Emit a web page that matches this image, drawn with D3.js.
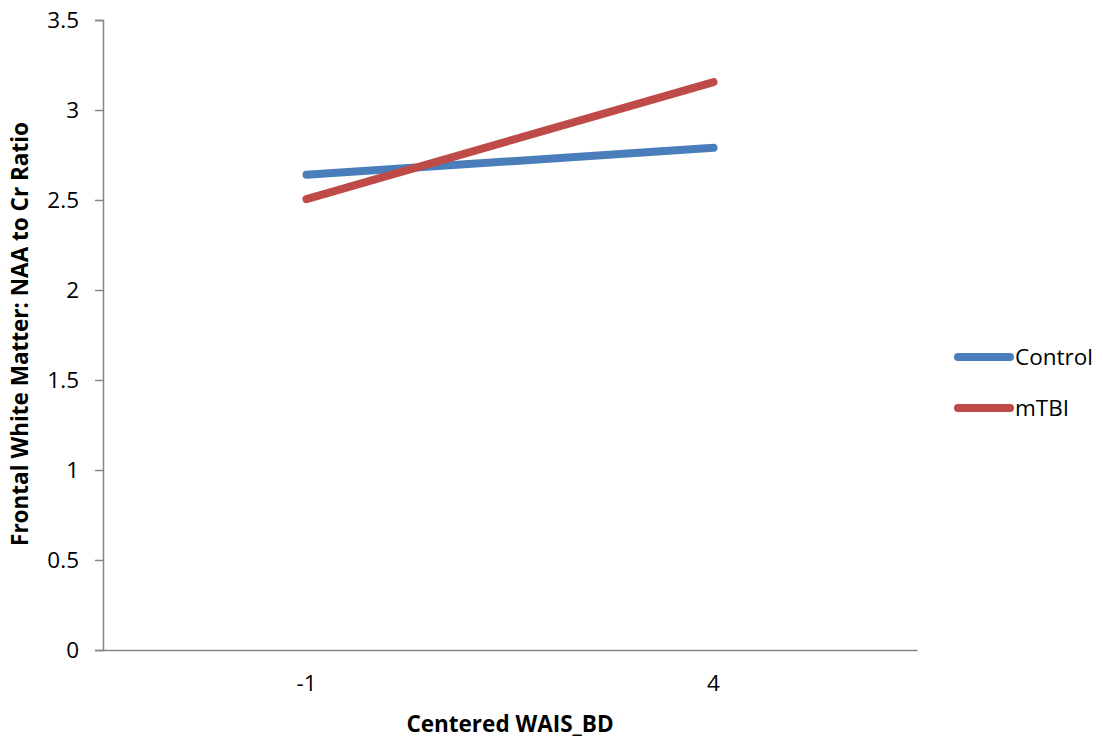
<!DOCTYPE html>
<html><head><meta charset="utf-8">
<script src="https://cdn.jsdelivr.net/npm/d3@7"></script>
<style>body{margin:0;background:#fff;} text{font-family:"Open Sans",Lato,sans-serif;}</style>
</head><body>
<svg id="chart" width="1107" height="744"></svg>
<script>
const categories = ["-1", "4"];
const controlValues = [2.64, 2.79];
const mtbiValues = [2.505, 3.155];
const yTicks = [0, 0.5, 1, 1.5, 2, 2.5, 3, 3.5];
const seriesNames = ["Control", "mTBI"];
const seriesColors = ["#4a7ebb", "#be4b48"];

(function () {
const svg = d3.select("#chart");
const mLeft = 103, mRight = 917, mTop = 20, mBottom = 650;
const fs = 22.5;
const x = d3.scaleBand().domain(categories).range([mLeft, mRight]);
const y = d3.scaleLinear().domain([0, 3.5]).range([mBottom, mTop]);

// y axis
const yAxis = svg.append("g").attr("transform", `translate(${mLeft},0)`)
  .call(d3.axisLeft(y).tickValues(yTicks).tickFormat(d => String(d)).tickSize(8).tickPadding(16));
yAxis.select(".domain").attr("stroke", "#868686").attr("stroke-width", 1.5);
yAxis.selectAll(".tick line").attr("stroke", "#868686").attr("stroke-width", 1.5);
yAxis.selectAll(".tick text").attr("font-size", fs).attr("fill", "#000").attr("font-family", "'Open Sans'");

// x axis
const xAxis = svg.append("g").attr("transform", `translate(0,${mBottom})`)
  .call(d3.axisBottom(x).tickSize(0).tickPadding(25));
xAxis.select(".domain").attr("stroke", "#868686").attr("stroke-width", 1.5);
xAxis.selectAll(".tick text").attr("font-size", fs).attr("fill", "#000").attr("font-family", "'Open Sans'");

// titles
svg.append("text").attr("x", 510).attr("y", 732).attr("text-anchor", "middle")
  .attr("font-size", fs).attr("font-weight", "bold").text("Centered WAIS_BD");
svg.append("text").attr("transform", "translate(28,334) rotate(-90)").attr("text-anchor", "middle")
  .attr("font-size", fs).attr("font-weight", "bold").text("Frontal White Matter: NAA to Cr Ratio");

// lines
const data = [controlValues, mtbiValues];
const line = d3.line().x((d, i) => x(categories[i]) + x.bandwidth() / 2).y(d => y(d));
data.forEach((vals, k) => {
  svg.append("path").datum(vals).attr("d", line).attr("fill", "none")
    .attr("stroke", seriesColors[k]).attr("stroke-width", 8).attr("stroke-linecap", "round");
});

// legend
seriesNames.forEach((name, k) => {
  const ly = 357 + k * 51;
  svg.append("line").attr("x1", 958).attr("x2", 1010).attr("y1", ly).attr("y2", ly)
    .attr("stroke", seriesColors[k]).attr("stroke-width", 8).attr("stroke-linecap", "round");
  svg.append("text").attr("x", 1015).attr("y", ly + 8).attr("font-size", fs).text(name);
});
})();
</script>
</body></html>
